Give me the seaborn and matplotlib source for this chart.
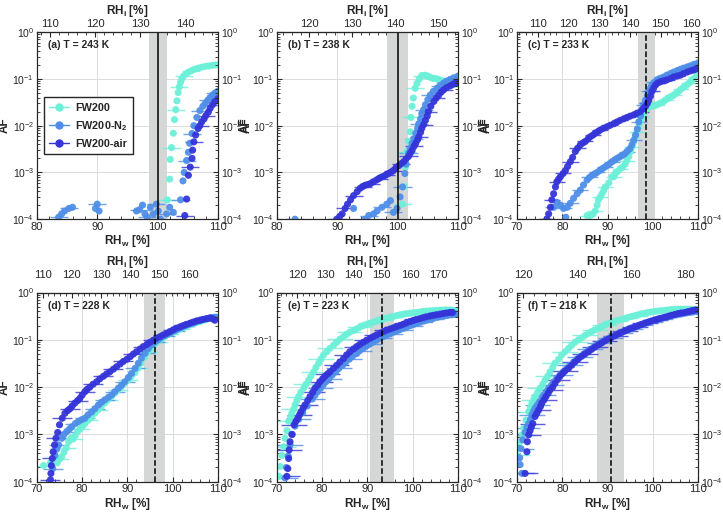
import numpy as np
import pandas as pd
import matplotlib
matplotlib.use('Agg')
import matplotlib.pyplot as plt
import seaborn as sns
from matplotlib.ticker import MultipleLocator, LogLocator, NullFormatter
from matplotlib.lines import Line2D

# (RH_w [%], AF) pairs, one list per sample and panel
a_fw200 = [(101.6, 2.6e-4), (102.0, 7.2e-4), (102.1, 1.9e-3), (102.3, 3.4e-3), (102.6, 6.9e-3), (102.8, 1.35e-2),
           (103.0, 2.2e-2), (103.2, 3.4e-2), (103.4, 5.1e-2), (103.6, 6.8e-2), (103.8, 8.5e-2), (104.0, 0.100),
           (104.3, 0.115), (104.7, 0.128), (105.1, 0.140), (105.6, 0.150), (106.1, 0.160), (106.7, 0.170),
           (107.3, 0.178), (107.9, 0.185), (108.5, 0.190), (109.1, 0.195), (109.6, 0.198), (110.0, 0.200)]
a_n2 = [(83.6, 1.1e-4), (84.1, 1.3e-4), (84.6, 1.5e-4), (85.3, 1.7e-4), (85.9, 1.8e-4), (89.7, 1.7e-4), (90.0, 2.1e-4),
        (90.3, 1.5e-4), (96.5, 1.5e-4), (97.0, 1.6e-4), (97.5, 2.0e-4), (97.9, 1.3e-4), (98.3, 1.1e-4), (98.8, 1.8e-4),
        (99.3, 1.3e-4), (99.8, 2.1e-4), (100.1, 1.5e-4), (100.5, 1.0e-4), (101.5, 1.3e-4), (102.0, 1.8e-4),
        (102.6, 1.4e-4), (103.8, 2.6e-4), (104.2, 6.6e-4), (104.4, 1.0e-3), (104.8, 1.8e-3), (105.1, 2.7e-3),
        (105.3, 4.2e-3), (105.7, 6.8e-3), (106.0, 1.0e-2), (106.5, 1.5e-2), (107.0, 2.1e-2), (107.5, 2.6e-2),
        (107.9, 3.0e-2), (108.3, 3.5e-2), (108.7, 4.0e-2), (109.1, 4.5e-2), (109.5, 5.0e-2), (110.0, 5.5e-2)]
a_air = [(104.5, 1.2e-4), (104.8, 2.7e-4), (105.1, 8.7e-4), (105.4, 1.3e-3), (105.7, 2.0e-3), (105.8, 3.0e-3),
         (106.0, 4.5e-3), (106.3, 6.3e-3), (106.7, 8.7e-3), (107.0, 1.0e-2), (107.3, 1.2e-2), (107.7, 1.4e-2),
         (108.0, 1.65e-2), (108.4, 1.95e-2), (108.7, 2.35e-2), (109.1, 2.8e-2), (109.5, 3.3e-2), (110.0, 3.8e-2)]

b_fw200 = [(100.8, 2.1e-4), (101.1, 5.0e-4), (101.3, 1.3e-3), (101.5, 2.8e-3), (101.8, 4.6e-3), (102.1, 7.4e-3),
           (102.2, 1.5e-2), (102.4, 2.6e-2), (102.6, 3.9e-2), (102.9, 6.3e-2), (103.2, 8.0e-2), (103.6, 0.100),
           (104.0, 0.118), (104.5, 0.120), (104.9, 0.115), (105.3, 0.110), (105.7, 0.104), (106.1, 0.102),
           (106.5, 0.100), (106.9, 0.096), (107.3, 0.092), (107.8, 0.087), (108.2, 0.082), (108.6, 0.079),
           (109.0, 0.076), (109.4, 0.077), (109.8, 0.078)]
b_n2 = [(83.0, 1.0e-4), (92.7, 1.7e-4), (94.6, 1.0e-4), (95.2, 1.2e-4), (96.0, 1.3e-4), (96.6, 1.5e-4), (97.4, 1.8e-4),
        (98.2, 2.1e-4), (98.8, 2.5e-4), (99.3, 1.4e-4), (99.9, 1.7e-4), (100.4, 3.0e-4), (100.8, 4.9e-4),
        (101.2, 9.5e-4), (101.4, 1.5e-3), (101.8, 2.6e-3), (102.1, 3.3e-3), (102.4, 4.2e-3), (102.7, 5.3e-3),
        (103.0, 6.9e-3), (103.3, 8.8e-3), (103.5, 1.1e-2), (103.8, 1.4e-2), (104.0, 1.8e-2), (104.3, 2.2e-2),
        (104.6, 2.8e-2), (105.0, 3.6e-2), (105.4, 4.5e-2), (105.9, 5.4e-2), (106.5, 6.3e-2), (107.0, 7.2e-2),
        (107.6, 8.1e-2), (108.1, 9.0e-2), (108.7, 9.8e-2), (109.3, 0.106), (110.0, 0.115)]
b_air = [(89.9, 1.0e-4), (90.4, 1.15e-4), (90.8, 1.3e-4), (91.3, 1.7e-4), (91.7, 2.1e-4), (92.2, 2.6e-4),
         (92.7, 3.2e-4), (93.3, 3.9e-4), (93.8, 4.6e-4), (94.2, 5.0e-4), (94.6, 5.3e-4), (95.0, 5.5e-4),
         (95.5, 5.8e-4), (96.0, 6.3e-4), (96.5, 6.9e-4), (96.9, 7.4e-4), (97.3, 7.9e-4), (97.7, 8.3e-4),
         (98.1, 8.9e-4), (98.5, 9.5e-4), (98.9, 1.02e-3), (99.3, 1.1e-3), (99.7, 1.25e-3), (100.2, 1.4e-3),
         (100.6, 1.55e-3), (101.0, 1.7e-3), (101.4, 1.95e-3), (101.8, 2.2e-3), (102.1, 2.6e-3), (102.4, 3.0e-3),
         (102.7, 3.6e-3), (103.0, 4.2e-3), (103.3, 5.0e-3), (103.5, 5.8e-3), (103.8, 7.2e-3), (104.0, 8.8e-3),
         (104.3, 1.05e-2), (104.6, 1.3e-2), (104.9, 1.6e-2), (105.1, 2.0e-2), (105.5, 2.6e-2), (106.0, 3.3e-2),
         (106.4, 3.9e-2), (106.8, 4.5e-2), (107.2, 5.2e-2), (107.6, 5.8e-2), (108.1, 6.5e-2), (108.7, 7.1e-2),
         (109.2, 7.7e-2), (109.6, 8.1e-2), (110.0, 8.5e-2)]

c_fw200 = [(85.5, 1.2e-4), (86.2, 1.2e-4), (86.8, 1.3e-4), (87.3, 1.5e-4), (87.7, 2.0e-4), (88.0, 2.6e-4), (88.4, 3.0e-4),
           (88.8, 3.5e-4), (89.2, 4.2e-4), (89.5, 4.9e-4), (90.3, 6.0e-4), (91.0, 8.1e-4), (91.4, 8.1e-4),
           (91.7, 9.5e-4), (92.2, 1.05e-3), (92.8, 1.2e-3), (93.3, 1.3e-3), (93.9, 1.5e-3), (94.3, 1.8e-3),
           (94.7, 2.2e-3), (95.1, 2.8e-3), (95.4, 3.5e-3), (95.8, 4.5e-3), (96.2, 5.8e-3), (96.5, 7.4e-3),
           (96.9, 9.5e-3), (97.2, 1.2e-2), (97.6, 1.5e-2), (98.0, 1.8e-2), (98.4, 2.2e-2), (98.9, 2.4e-2),
           (99.5, 2.6e-2), (100.2, 2.7e-2), (100.9, 2.8e-2), (101.6, 3.0e-2), (102.4, 3.3e-2), (102.9, 3.6e-2),
           (103.5, 3.9e-2), (104.0, 4.2e-2), (104.6, 4.5e-2), (105.1, 4.9e-2), (105.7, 5.4e-2), (106.2, 6.0e-2),
           (106.8, 6.6e-2), (107.4, 7.3e-2), (108.0, 8.1e-2), (108.5, 9.0e-2), (109.0, 0.100), (109.5, 0.110),
           (110.0, 0.120)]
c_n2 = [(78.1, 1.8e-4), (78.8, 2.3e-4), (79.6, 2.0e-4), (80.3, 1.7e-4), (80.8, 1.1e-4), (81.1, 1.8e-4), (81.8, 2.2e-4),
        (82.5, 2.8e-4), (83.3, 3.5e-4), (84.0, 4.2e-4), (84.7, 5.4e-4), (85.5, 6.9e-4), (86.0, 7.8e-4), (86.6, 8.7e-4),
        (87.2, 9.4e-4), (87.7, 1.0e-3), (88.3, 1.1e-3), (88.8, 1.2e-3), (89.4, 1.3e-3), (89.9, 1.4e-3),
        (90.5, 1.55e-3), (91.0, 1.7e-3), (91.6, 1.85e-3), (92.1, 2.0e-3), (92.7, 2.15e-3), (93.2, 2.3e-3),
        (93.8, 2.5e-3), (94.3, 2.8e-3), (94.9, 3.2e-3), (95.4, 3.9e-3), (95.8, 4.9e-3), (96.2, 6.3e-3),
        (96.6, 8.5e-3), (96.9, 1.2e-2), (97.3, 1.6e-2), (97.6, 2.2e-2), (98.0, 2.8e-2), (98.4, 3.5e-2),
        (98.8, 4.4e-2), (99.1, 5.4e-2), (99.5, 6.4e-2), (99.8, 7.4e-2), (100.3, 8.4e-2), (100.9, 9.5e-2),
        (101.6, 0.103), (102.4, 0.110), (103.1, 0.120), (103.9, 0.130), (104.6, 0.140), (105.4, 0.150),
        (106.1, 0.160), (106.8, 0.170), (107.6, 0.180), (108.3, 0.190), (109.1, 0.205), (110.0, 0.220)]
c_air = [(76.6, 1.0e-4), (77.0, 1.3e-4), (77.4, 1.8e-4), (77.7, 2.6e-4), (78.1, 3.5e-4), (78.5, 4.9e-4), (78.8, 6.3e-4),
         (79.2, 7.2e-4), (79.6, 8.1e-4), (80.2, 9.5e-4), (80.7, 1.1e-3), (81.2, 1.35e-3), (81.8, 1.7e-3),
         (82.3, 2.1e-3), (82.9, 2.8e-3), (83.4, 3.3e-3), (84.0, 3.9e-3), (84.6, 4.3e-3), (85.1, 4.6e-3),
         (85.7, 5.2e-3), (86.2, 5.8e-3), (86.8, 6.3e-3), (87.3, 6.9e-3), (87.9, 7.5e-3), (88.4, 8.1e-3),
         (89.1, 8.8e-3), (89.9, 9.5e-3), (90.6, 1.02e-2), (91.4, 1.1e-2), (92.1, 1.2e-2), (92.8, 1.3e-2),
         (93.6, 1.4e-2), (94.3, 1.5e-2), (95.0, 1.6e-2), (95.8, 1.7e-2), (96.5, 1.85e-2), (97.3, 2.0e-2),
         (97.9, 2.3e-2), (98.4, 2.6e-2), (98.8, 3.0e-2), (99.1, 3.5e-2), (99.5, 4.3e-2), (99.8, 5.4e-2),
         (100.2, 6.4e-2), (100.6, 7.4e-2), (101.1, 8.2e-2), (101.7, 8.7e-2), (102.4, 9.1e-2), (103.1, 9.5e-2),
         (103.9, 0.102), (104.6, 0.110), (105.4, 0.115), (106.1, 0.120), (106.8, 0.130), (107.6, 0.140),
         (108.3, 0.148), (109.0, 0.155), (109.5, 0.162), (110.0, 0.170)]

d_fw200 = [(71.5, 2.2e-4), (73.0, 2.5e-4), (74.5, 2.5e-4), (75.0, 3.0e-4), (75.5, 3.4e-4), (76.0, 4.2e-4), (76.5, 5.2e-4),
           (77.0, 7.0e-4), (77.5, 8.3e-4), (78.0, 8.0e-4), (78.5, 9.5e-4), (79.0, 1.15e-3), (79.5, 1.3e-3),
           (80.1, 1.5e-3), (80.6, 1.7e-3), (81.3, 2.0e-3), (82.0, 2.3e-3), (82.8, 2.8e-3), (83.5, 3.3e-3),
           (84.2, 3.9e-3), (85.0, 4.6e-3), (85.7, 5.4e-3), (86.4, 6.3e-3), (87.2, 7.4e-3), (87.9, 8.7e-3),
           (88.6, 1.0e-2), (89.4, 1.2e-2), (90.1, 1.4e-2), (90.8, 1.65e-2), (91.6, 2.0e-2), (92.3, 2.5e-2),
           (93.0, 3.2e-2), (93.8, 4.3e-2), (94.5, 5.5e-2), (95.2, 6.6e-2), (96.0, 8.0e-2), (96.7, 9.2e-2),
           (97.5, 0.105), (98.3, 0.118), (99.1, 0.130), (100.0, 0.143), (100.8, 0.156), (101.7, 0.170),
           (102.5, 0.185), (103.4, 0.200), (104.2, 0.215), (105.1, 0.230), (105.9, 0.245), (106.8, 0.260),
           (107.6, 0.272), (108.5, 0.285), (109.3, 0.295), (110.0, 0.300)]
d_n2 = [(73.5, 1.9e-4), (74.0, 3.6e-4), (74.4, 4.9e-4), (74.8, 6.0e-4), (75.5, 8.3e-4), (76.0, 1.0e-3), (76.6, 1.15e-3),
        (77.2, 1.3e-3), (77.7, 1.45e-3), (78.5, 1.7e-3), (79.2, 1.9e-3), (79.9, 2.05e-3), (80.6, 2.2e-3),
        (81.3, 2.6e-3), (82.1, 3.0e-3), (82.8, 3.5e-3), (83.6, 4.2e-3), (84.3, 4.8e-3), (85.0, 5.4e-3),
        (85.8, 6.1e-3), (86.5, 6.8e-3), (87.2, 8.0e-3), (88.0, 9.5e-3), (88.7, 1.1e-2), (89.4, 1.3e-2),
        (90.2, 1.6e-2), (90.9, 1.95e-2), (91.7, 2.5e-2), (92.4, 3.2e-2), (93.1, 4.1e-2), (93.9, 5.2e-2),
        (94.6, 6.5e-2), (95.3, 7.8e-2), (96.1, 9.0e-2), (96.8, 0.100), (97.5, 0.112), (98.3, 0.123), (99.0, 0.134),
        (99.7, 0.145), (100.5, 0.157), (101.2, 0.170), (101.9, 0.183), (102.7, 0.196), (103.4, 0.210),
        (104.1, 0.224), (104.9, 0.237), (105.6, 0.250), (106.3, 0.263), (107.1, 0.276), (107.8, 0.286),
        (108.5, 0.295), (109.1, 0.300), (109.6, 0.300)]
d_air = [(73.0, 1.1e-4), (73.1, 1.5e-4), (73.2, 2.2e-4), (73.4, 3.1e-4), (73.6, 4.3e-4), (73.9, 6.0e-4), (74.2, 8.3e-4),
         (74.6, 1.1e-3), (75.0, 1.6e-3), (75.6, 2.2e-3), (76.2, 2.8e-3), (76.8, 3.2e-3), (77.3, 3.5e-3),
         (77.8, 4.0e-3), (78.4, 4.6e-3), (79.0, 5.2e-3), (79.5, 5.8e-3), (80.0, 6.8e-3), (80.6, 8.0e-3),
         (81.1, 9.0e-3), (81.7, 1.0e-2), (82.4, 1.15e-2), (83.2, 1.3e-2), (83.9, 1.5e-2), (84.7, 1.7e-2),
         (85.4, 1.9e-2), (86.1, 2.1e-2), (86.9, 2.4e-2), (87.6, 2.7e-2), (88.4, 3.1e-2), (89.1, 3.5e-2),
         (89.9, 3.9e-2), (90.6, 4.4e-2), (91.3, 5.0e-2), (92.0, 5.6e-2), (92.8, 6.4e-2), (93.5, 7.2e-2),
         (94.3, 8.0e-2), (95.0, 8.9e-2), (95.7, 9.8e-2), (96.4, 0.108), (97.2, 0.117), (97.9, 0.127),
         (98.7, 0.138), (99.4, 0.150), (100.1, 0.163), (100.8, 0.177), (101.6, 0.188), (102.3, 0.200),
         (103.0, 0.212), (103.8, 0.225), (104.5, 0.237), (105.2, 0.250), (106.0, 0.260), (106.7, 0.270),
         (107.5, 0.280), (108.2, 0.290), (108.8, 0.280), (109.3, 0.260)]

e_fw200 = [(70.4, 1.3e-4), (70.7, 2.1e-4), (71.1, 3.6e-4), (71.5, 5.5e-4), (71.8, 8.3e-4), (72.2, 1.2e-3), (72.6, 1.9e-3),
           (73.0, 2.3e-3), (73.3, 2.8e-3), (73.7, 3.4e-3), (74.0, 4.2e-3), (74.4, 5.2e-3), (74.8, 6.3e-3),
           (75.3, 7.8e-3), (75.9, 9.5e-3), (76.4, 1.15e-2), (77.0, 1.4e-2), (77.5, 1.7e-2), (78.1, 2.1e-2),
           (78.6, 2.6e-2), (79.2, 3.2e-2), (79.7, 3.9e-2), (80.3, 4.8e-2), (81.0, 5.6e-2), (81.7, 6.6e-2),
           (82.5, 7.7e-2), (83.2, 8.9e-2), (83.9, 0.103), (84.7, 0.117), (85.4, 0.131), (86.1, 0.145),
           (86.9, 0.157), (87.6, 0.170), (88.3, 0.185), (89.1, 0.200), (89.8, 0.212), (90.6, 0.224), (91.3, 0.237),
           (92.0, 0.250), (92.8, 0.263), (93.5, 0.276), (94.2, 0.288), (95.0, 0.300), (95.7, 0.312), (96.4, 0.325),
           (97.2, 0.338), (97.9, 0.350), (98.6, 0.358), (99.4, 0.365), (100.1, 0.372), (100.8, 0.380),
           (101.6, 0.390), (102.3, 0.400), (103.0, 0.405), (103.8, 0.410), (104.5, 0.415), (105.2, 0.420),
           (106.0, 0.425), (106.7, 0.428), (107.4, 0.430), (108.2, 0.430), (108.9, 0.420), (109.6, 0.400)]
e_n2 = [(71.8, 1.2e-4), (72.1, 2.0e-4), (72.5, 3.5e-4), (72.9, 6.0e-4), (73.4, 1.0e-3), (74.0, 1.5e-3), (74.8, 2.1e-3),
        (75.7, 2.9e-3), (76.7, 4.0e-3), (77.8, 5.6e-3), (78.4, 6.7e-3), (79.0, 8.0e-3), (79.6, 9.4e-3),
        (80.2, 1.1e-2), (80.8, 1.3e-2), (81.5, 1.5e-2), (82.2, 1.8e-2), (83.0, 2.1e-2), (83.7, 2.5e-2),
        (84.5, 2.9e-2), (85.2, 3.4e-2), (86.0, 3.9e-2), (86.7, 4.5e-2), (87.5, 5.1e-2), (88.2, 5.8e-2),
        (89.0, 6.5e-2), (89.7, 7.3e-2), (90.5, 8.1e-2), (91.2, 8.9e-2), (92.0, 9.8e-2), (92.7, 0.107),
        (93.5, 0.117), (94.2, 0.126), (95.0, 0.135), (95.7, 0.145), (96.5, 0.155), (97.2, 0.165), (98.0, 0.175),
        (98.7, 0.187), (99.5, 0.200), (100.2, 0.212), (101.0, 0.225), (101.7, 0.237), (102.5, 0.250),
        (103.2, 0.262), (104.0, 0.275), (104.7, 0.287), (105.5, 0.300), (106.2, 0.310), (107.0, 0.320),
        (107.7, 0.330), (108.5, 0.340), (109.2, 0.345), (109.8, 0.350)]
e_air = [(72.2, 1.3e-4), (72.4, 1.9e-4), (72.6, 3.1e-4), (72.7, 4.7e-4), (72.9, 7.0e-4), (73.3, 1.0e-3), (73.8, 1.6e-3),
         (74.2, 1.9e-3), (74.6, 2.2e-3), (75.0, 2.6e-3), (75.3, 3.0e-3), (75.8, 3.6e-3), (76.2, 4.2e-3),
         (76.8, 5.2e-3), (77.3, 6.3e-3), (77.9, 7.8e-3), (78.4, 9.5e-3), (79.0, 1.1e-2), (79.5, 1.3e-2),
         (80.1, 1.5e-2), (80.6, 1.7e-2), (81.2, 1.9e-2), (81.7, 2.1e-2), (82.5, 2.5e-2), (83.2, 2.9e-2),
         (83.9, 3.4e-2), (84.7, 4.0e-2), (85.4, 4.8e-2), (86.1, 5.6e-2), (86.9, 6.4e-2), (87.6, 7.2e-2),
         (88.3, 8.0e-2), (89.1, 8.9e-2), (89.8, 9.8e-2), (90.6, 0.108), (91.3, 0.117), (92.0, 0.127),
         (92.8, 0.138), (93.5, 0.150), (94.2, 0.160), (95.0, 0.170), (95.7, 0.180), (96.4, 0.190), (97.2, 0.202),
         (97.9, 0.214), (98.6, 0.229), (99.4, 0.244), (100.1, 0.257), (100.8, 0.270), (101.6, 0.282),
         (102.3, 0.295), (103.0, 0.307), (103.8, 0.320), (104.5, 0.330), (105.2, 0.340), (106.0, 0.350),
         (106.7, 0.360), (107.4, 0.370), (108.2, 0.380), (108.8, 0.380)]

f_fw200 = [(70.0, 3.6e-4), (70.1, 5.0e-4), (70.6, 7.0e-4), (71.1, 9.8e-4), (71.5, 1.35e-3), (72.0, 2.0e-3), (72.6, 3.0e-3),
           (73.0, 3.7e-3), (73.3, 4.6e-3), (73.7, 5.4e-3), (74.0, 6.3e-3), (74.6, 7.8e-3), (75.1, 9.5e-3),
           (75.7, 1.15e-2), (76.2, 1.4e-2), (76.8, 1.7e-2), (77.3, 2.1e-2), (77.9, 2.6e-2), (78.4, 3.2e-2),
           (79.2, 3.9e-2), (79.9, 4.8e-2), (80.6, 5.6e-2), (81.4, 6.6e-2), (82.1, 7.7e-2), (82.8, 8.9e-2),
           (83.6, 0.100), (84.3, 0.110), (85.0, 0.124), (85.8, 0.138), (86.5, 0.150), (87.2, 0.162), (88.0, 0.176),
           (88.7, 0.190), (89.4, 0.205), (90.2, 0.220), (90.9, 0.232), (91.7, 0.245), (92.4, 0.257), (93.1, 0.270),
           (93.9, 0.285), (94.6, 0.300), (95.3, 0.312), (96.1, 0.325), (96.8, 0.340), (97.5, 0.355), (98.3, 0.367),
           (99.0, 0.380), (99.7, 0.390), (100.5, 0.400), (101.2, 0.408), (101.9, 0.415), (102.7, 0.422),
           (103.4, 0.430), (104.1, 0.437), (104.9, 0.445), (105.6, 0.445), (106.3, 0.445), (107.1, 0.445),
           (107.8, 0.445), (108.6, 0.440), (109.3, 0.435), (110.0, 0.430)]
f_n2 = [(71.1, 1.5e-4), (70.7, 2.3e-4), (70.6, 3.2e-4), (70.9, 5.0e-4), (71.3, 7.7e-4), (71.8, 1.1e-3), (72.2, 1.4e-3),
        (72.6, 1.7e-3), (73.0, 2.1e-3), (73.3, 2.6e-3), (73.7, 3.1e-3), (74.0, 3.6e-3), (74.5, 4.2e-3),
        (75.0, 4.9e-3), (75.5, 5.8e-3), (75.9, 6.8e-3), (76.5, 8.0e-3), (77.0, 9.5e-3), (77.6, 1.1e-2),
        (78.1, 1.3e-2), (78.8, 1.55e-2), (79.5, 1.8e-2), (80.2, 2.1e-2), (81.0, 2.5e-2), (81.7, 2.9e-2),
        (82.5, 3.4e-2), (83.2, 3.9e-2), (83.9, 4.4e-2), (84.7, 5.0e-2), (85.4, 5.6e-2), (86.1, 6.3e-2),
        (86.9, 7.0e-2), (87.6, 7.8e-2), (88.3, 8.6e-2), (89.1, 9.4e-2), (89.8, 0.103), (90.6, 0.111),
        (91.3, 0.120), (92.0, 0.130), (92.8, 0.140), (93.5, 0.150), (94.2, 0.160), (95.0, 0.170), (95.7, 0.180),
        (96.5, 0.192), (97.2, 0.205), (97.9, 0.217), (98.6, 0.230), (99.4, 0.242), (100.1, 0.255),
        (100.8, 0.267), (101.6, 0.280), (102.3, 0.290), (103.0, 0.300), (103.8, 0.315), (104.5, 0.330),
        (105.2, 0.340), (106.0, 0.350), (106.7, 0.360), (107.4, 0.370), (108.2, 0.380), (108.9, 0.390),
        (109.8, 0.395)]
f_air = [(71.8, 1.5e-4), (72.2, 4.3e-4), (72.3, 7.0e-4), (72.6, 9.8e-4), (72.9, 1.2e-3), (73.2, 1.45e-3), (73.5, 1.7e-3),
         (74.0, 2.4e-3), (74.4, 2.8e-3), (74.8, 3.3e-3), (75.2, 3.9e-3), (75.5, 4.6e-3), (76.0, 5.4e-3),
         (76.4, 6.3e-3), (76.9, 7.4e-3), (77.3, 8.7e-3), (77.9, 1.0e-2), (78.4, 1.2e-2), (79.0, 1.45e-2),
         (79.5, 1.7e-2), (80.1, 1.95e-2), (80.6, 2.2e-2), (81.4, 2.5e-2), (82.1, 2.9e-2), (82.8, 3.4e-2),
         (83.6, 4.0e-2), (84.3, 4.5e-2), (85.0, 5.0e-2), (85.8, 5.6e-2), (86.5, 6.3e-2), (87.2, 7.0e-2),
         (88.0, 7.8e-2), (88.7, 8.6e-2), (89.4, 9.5e-2), (90.2, 0.104), (90.9, 0.113), (91.7, 0.123),
         (92.4, 0.134), (93.1, 0.144), (93.9, 0.155), (94.6, 0.166), (95.3, 0.177), (96.1, 0.188), (96.8, 0.200),
         (97.5, 0.212), (98.3, 0.225), (99.0, 0.237), (99.7, 0.250), (100.5, 0.263), (101.2, 0.277),
         (101.9, 0.288), (102.7, 0.300), (103.4, 0.315), (104.1, 0.330), (104.9, 0.345), (105.6, 0.360),
         (106.3, 0.370), (107.1, 0.380), (107.8, 0.395), (108.5, 0.410), (109.0, 0.420), (109.5, 0.430)]

samples = ['FW200', 'FW200-N2', 'FW200-air']
legend_names = ['FW200', 'FW200-N$_\\mathbf{2}$', 'FW200-air']
colors = {'FW200': '#6cf0d8', 'FW200-N2': '#4f8ee8', 'FW200-air': '#3434d8'}

# panel title, RHi/RHw ratio, x start, freezing line, band, line style, RHw error, top tick step
panels = [
    ([a_fw200, a_n2, a_air], '(a) T = 243 K', 1.339, 80, 100.0, (98.5, 101.5), '-', 1.5, 10),
    ([b_fw200, b_n2, b_air], '(b) T = 238 K', 1.406, 80, 100.0, (98.2, 101.7), '-', 1.5, 10),
    ([c_fw200, c_n2, c_air], '(c) T = 233 K', 1.474, 70, 98.6, (96.7, 100.6), '--', 1.8, 10),
    ([d_fw200, d_n2, d_air], '(d) T = 228 K', 1.544, 70, 96.1, (93.7, 98.4), '--', 2.2, 10),
    ([e_fw200, e_n2, e_air], '(e) T = 223 K', 1.610, 70, 93.3, (90.6, 95.9), '--', 2.8, 10),
    ([f_fw200, f_n2, f_air], '(f) T = 218 K', 1.680, 70, 90.8, (87.7, 93.7), '--', 2.8, 20),
]

sns.set_style('ticks', {'xtick.direction': 'in', 'ytick.direction': 'in', 'axes.edgecolor': '#262626'})
plt.rcParams['font.family'] = ['Liberation Sans', 'DejaVu Sans']
plt.rcParams['mathtext.fontset'] = 'custom'
plt.rcParams['mathtext.rm'] = 'Liberation Sans'
plt.rcParams['mathtext.it'] = 'Liberation Sans:italic'
plt.rcParams['mathtext.bf'] = 'Liberation Sans:bold'
plt.rcParams['axes.linewidth'] = 0.8

fig = plt.figure(figsize=(7.23, 5.14), dpi=100)
lefts = [0.051, 0.383, 0.715]
bottoms = [0.5735, 0.0628]
heights = [0.364, 0.368]
top_pads = [2, 9]
right_label_x = [1.127, 1.127, 1.15]


def style_ticks(axis):
    axis.tick_params(which='both', direction='in', labelsize=7.5, colors='#262626', pad=2)
    axis.tick_params(which='major', length=3.5)
    axis.tick_params(which='minor', length=2)


for i, (series, title, ratio, xmin, fline, band, ls, err, step) in enumerate(panels):
    row, col = divmod(i, 3)
    ax = fig.add_axes([lefts[col], bottoms[row], 0.2505, heights[row]])

    df = pd.concat([pd.DataFrame(s, columns=['rhw', 'af']).assign(sample=n) for s, n in zip(series, samples)],
                   ignore_index=True)

    ax.axvspan(band[0], band[1], color='#d5d7d7', lw=0, zorder=1)
    for n in samples:
        sub = df[df['sample'] == n].iloc[::3]
        ax.errorbar(sub['rhw'], sub['af'], xerr=err, fmt='none', ecolor=colors[n], elinewidth=1.0,
                    alpha=0.8, capsize=0, zorder=2)
    sns.scatterplot(data=df, x='rhw', y='af', hue='sample', hue_order=samples, palette=colors,
                    s=26, linewidth=0, alpha=0.95, legend=False, ax=ax, zorder=3)
    ax.axvline(fline, color='black', ls=ls, lw=1.1, zorder=4)

    ax.set_yscale('log')
    ax.set_ylim(1e-4, 1)
    ax.set_xlim(xmin, 110)
    ax.set_xticks(np.arange(xmin, 111, 10))
    ax.xaxis.set_minor_locator(MultipleLocator(2))
    ax.yaxis.set_minor_locator(LogLocator(base=10, subs=np.arange(2, 10), numticks=20))
    ax.yaxis.set_minor_formatter(NullFormatter())
    style_ticks(ax)
    ax.tick_params(which='both', bottom=True, left=True, top=False, right=False)
    ax.tick_params(axis='x', labelsize=8)
    ax.grid(True, which='major', color='#dcdcdc', lw=0.7)
    ax.set_axisbelow(True)
    ax.set_xlabel('RH$_\\mathbf{w}$ [%]', fontweight='bold', fontsize=8.5, labelpad=1)
    ax.set_ylabel('AF', fontweight='bold', fontsize=8.5)
    ax.yaxis.set_label_coords(-0.144, 0.5)
    ax.text(0.06, 0.93, title, transform=ax.transAxes, fontweight='bold', fontsize=7.5, va='center')

    top = ax.secondary_xaxis('top', functions=(lambda x, k=ratio: x * k, lambda x, k=ratio: x / k))
    top.xaxis.set_major_locator(MultipleLocator(step))
    top.xaxis.set_minor_locator(MultipleLocator(step / 5))
    style_ticks(top)
    top.tick_params(labelsize=8, pad=top_pads[row])
    top.set_xlabel('RH$_\\mathbf{i}$ [%]', fontweight='bold', fontsize=8.5, labelpad=4)

    right = ax.twinx()
    right.set_yscale('log')
    right.set_ylim(1e-4, 1)
    right.yaxis.set_minor_locator(LogLocator(base=10, subs=np.arange(2, 10), numticks=20))
    right.yaxis.set_minor_formatter(NullFormatter())
    style_ticks(right)
    right.set_ylabel('AF', fontweight='bold', fontsize=8.5)
    right.yaxis.set_label_coords(right_label_x[col], 0.5)

    if i == 0:
        handles = [(Line2D([0], [0], marker='o', ls='none', ms=5, color=colors[n]),
                    Line2D([0], [0], color=colors[n], lw=1.0)) for n in samples]
        ax.legend(handles, legend_names, loc='lower left', bbox_to_anchor=(0.008, 0.32), frameon=True,
                  fancybox=False, edgecolor='#262626', framealpha=1, prop={'weight': 'bold', 'size': 7.8},
                  handlelength=1.8, borderpad=0.5, labelspacing=0.55, handletextpad=0.6)

fig.savefig('out.png', dpi=100)
